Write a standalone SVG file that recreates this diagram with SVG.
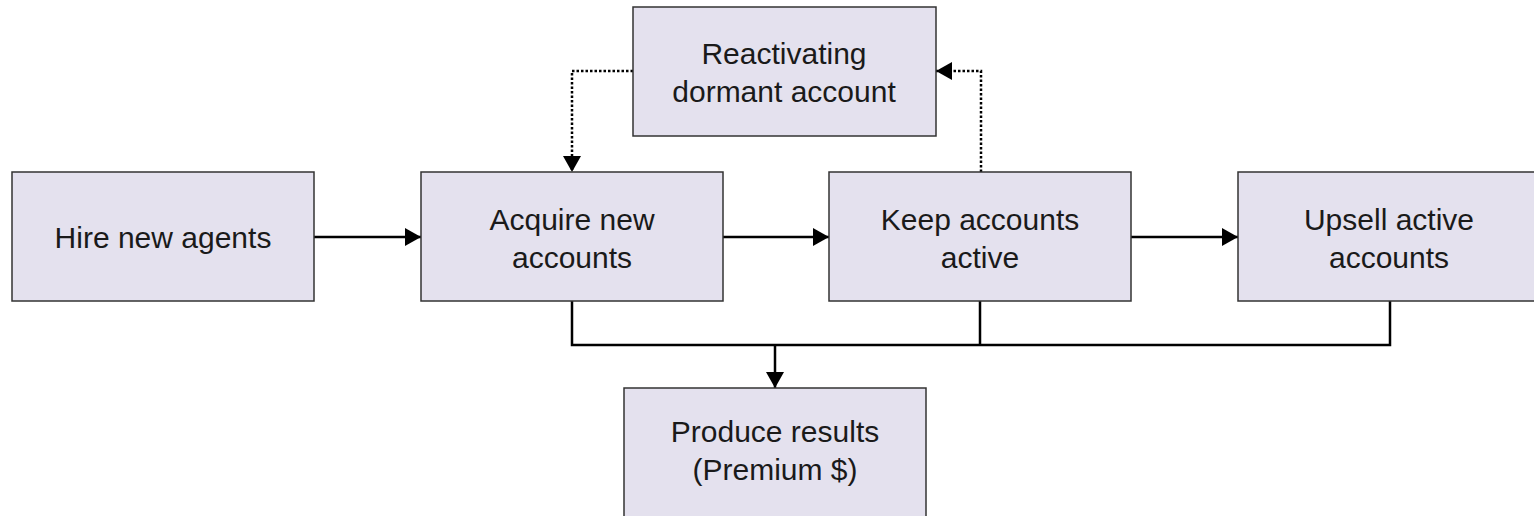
<svg xmlns="http://www.w3.org/2000/svg" width="1534" height="516" viewBox="0 0 1534 516">
<style>
.box{fill:#E4E1EE;stroke:#333;stroke-width:1.5}
.t{font-family:"Liberation Sans",Arial,sans-serif;font-size:30px;fill:#1a1a1a;text-anchor:middle}
.c{fill:none;stroke:#000;stroke-width:2.5}
.d{fill:none;stroke:#000;stroke-width:2.5;stroke-dasharray:2.5 2}
</style>
<defs>
<marker id="ah" viewBox="0 0 16 18" refX="16" refY="9" markerWidth="16" markerHeight="18" markerUnits="userSpaceOnUse" orient="auto">
<path d="M0,0 L16,9 L0,18 Z" fill="#000"/>
</marker>
</defs>
<rect width="1534" height="516" fill="#fff"/>
<g id="connectors">
<line class="c" x1="314" y1="237" x2="421" y2="237" marker-end="url(#ah)"/>
<line class="c" x1="723" y1="237" x2="829" y2="237" marker-end="url(#ah)"/>
<line class="c" x1="1131" y1="237" x2="1238" y2="237" marker-end="url(#ah)"/>
<path class="c" d="M572,301 V345 H1390 V301 M980,301 V345"/>
<line class="c" x1="775" y1="345" x2="775" y2="388" marker-end="url(#ah)"/>
<path class="d" d="M633,71 H572 V172" marker-end="url(#ah)"/>
<path class="d" d="M981,172 V71 H936" marker-end="url(#ah)"/>
</g>
<g id="hire">
<rect class="box" x="12" y="172" width="302" height="129"/>
<text class="t" x="163" y="248">Hire new agents</text>
</g>
<g id="acquire">
<rect class="box" x="421" y="172" width="302" height="129"/>
<text class="t" x="572" y="230">Acquire new</text>
<text class="t" x="572" y="268">accounts</text>
</g>
<g id="keep">
<rect class="box" x="829" y="172" width="302" height="129"/>
<text class="t" x="980" y="230">Keep accounts</text>
<text class="t" x="980" y="268">active</text>
</g>
<g id="upsell">
<rect class="box" x="1238" y="172" width="302" height="129"/>
<text class="t" x="1389" y="230">Upsell active</text>
<text class="t" x="1389" y="268">accounts</text>
</g>
<g id="reactivate">
<rect class="box" x="633" y="7" width="303" height="129"/>
<text class="t" x="784" y="64">Reactivating</text>
<text class="t" x="784" y="102">dormant account</text>
</g>
<g id="produce">
<rect class="box" x="624" y="388" width="302" height="135"/>
<text class="t" x="775" y="442">Produce results</text>
<text class="t" x="775" y="480">(Premium $)</text>
</g>
</svg>
